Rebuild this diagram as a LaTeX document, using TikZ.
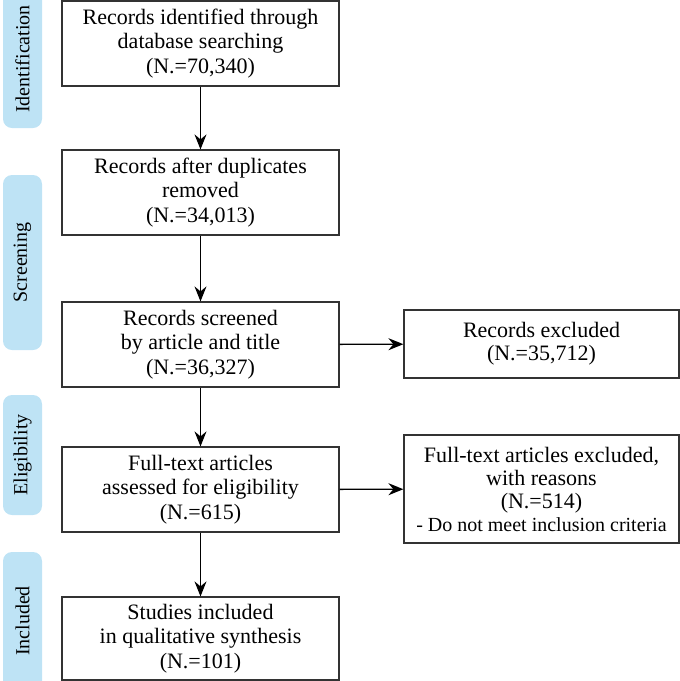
\documentclass[tikz,border=0pt]{standalone}
\usepackage{fontspec}
\setmainfont{Liberation Serif}
\usepackage{xcolor}
\usepackage{tikz}
\usetikzlibrary{arrows.meta}
\definecolor{phaseblue}{HTML}{BEE3F5}
\pgfkeys{tikz/flowbox/.style={draw=black!80,line width=1.2pt,fill=white,align=center,inner sep=0pt,minimum width=277pt,minimum height=85pt,font=\fontsize{22}{24.5}\selectfont}}
\pgfkeys{tikz/exclbox/.style={draw=black!80,line width=1.2pt,fill=white,align=center,inner sep=0pt,minimum width=275pt,font=\fontsize{22}{23}\selectfont}}
\pgfkeys{tikz/phaselabel/.style={fill=phaseblue,rounded corners=9pt,rotate=90,minimum height=39pt,inner sep=0pt,font=\fontsize{20}{20}\selectfont}}
\pgfkeys{tikz/flowarrow/.style={-{Stealth[length=15pt,width=12pt,inset=5pt]},line width=1.4pt}}
\newcommand\smallline[1]{{\fontsize{20}{22}\selectfont #1}}

\begin{document}
\begin{tikzpicture}[x=1pt,y=-1pt]
    \useasboundingbox (0,0) rectangle (680,681);
    % phases
    \node[phaselabel,minimum width=138pt] (ident) at (22.5,59) {Identification};
    \node[phaselabel,minimum width=175pt] (screen) at (22.5,262.5) {Screening};
    \node[phaselabel,minimum width=120pt] (elig) at (22.5,455) {Eligibility};
    \node[phaselabel,minimum width=138pt] (incl) at (22.5,621) {Included};
    % main column
    \node[flowbox] (found) at (200.5,43.5) {Records identified through\\database searching\\(N.=70,340)};
    \node[flowbox] (nodup) at (200.5,192.5) {Records after duplicates\\removed\\(N.=34,013)};
    \node[flowbox] (screened) at (200.5,344.5) {Records screened\\by article and title\\(N.=36,327)};
    \node[flowbox] (fulltext) at (200.5,489.5) {Full-text articles\\assessed for eligibility\\(N.=615)};
    \node[flowbox,minimum height=83pt] (studies) at (200.5,638.5) {Studies included\\in qualitative synthesis\\(N.=101)};
    % exclusions
    \node[exclbox,minimum height=68pt] (excl) at (541.5,344) {Records excluded\\(N.=35,712)};
    \node[exclbox,minimum height=108pt] (ftexcl) at (541.5,489) {Full-text articles excluded,\\with reasons\\(N.=514)\\\smallline{- Do not meet inclusion criteria}};
    % arrows
    \draw[flowarrow] (found) -- (nodup);
    \draw[flowarrow] (nodup) -- (screened);
    \draw[flowarrow] (screened) -- (fulltext);
    \draw[flowarrow] (fulltext) -- (studies);
    \draw[flowarrow] (screened) -- (excl);
    \draw[flowarrow] (fulltext) -- (ftexcl);
\end{tikzpicture}
\end{document}
